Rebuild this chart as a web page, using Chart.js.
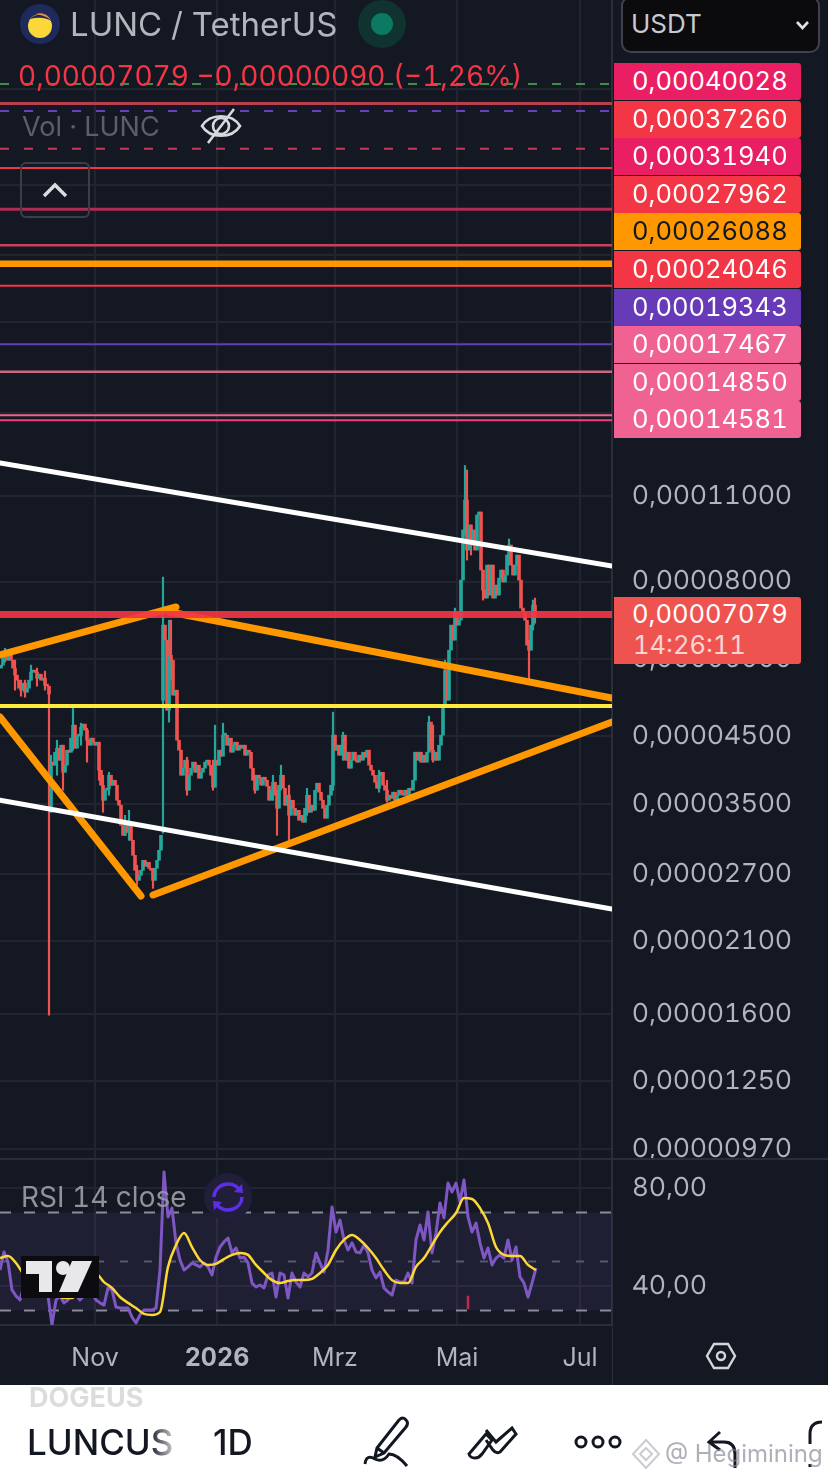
<!DOCTYPE html>
<html>
<head>
<meta charset="utf-8">
<title>LUNC / TetherUS</title>
<script src="https://cdn.jsdelivr.net/npm/chart.js@4"></script>
<style>
  @font-face { font-family: InterTab; src: local('Inter'), local('Inter Regular'); font-feature-settings: "tnum"; }
  html, body { margin: 0; padding: 0; background: #141823; }
  #page { position: relative; width: 828px; height: 1478px; overflow: hidden; background: #141823; font-family: Inter, sans-serif; font-variant-numeric: tabular-nums; }
  canvas { position: absolute; left: 0; }
  .txt { position: absolute; white-space: nowrap; line-height: 1; }
  .badge { position: absolute; left: 614px; width: 187px; height: 37px; border-radius: 0 3px 3px 0; color: #fff; font-size: 25.5px; line-height: 35px; text-indent: 18px; }
  svg { position: absolute; overflow: visible; }
</style>
</head>
<body>
<div id="page">
  <canvas id="priceChart" style="top:0"></canvas>
  <canvas id="rsiChart" style="top:1158px"></canvas>

  <div style="position:absolute;left:0;top:1158px;width:828px;height:2px;background:#2a2e39"></div>
  <div style="position:absolute;left:612px;top:1325px;width:1px;height:60px;background:#2a2e39"></div>

  <!-- header -->
  <svg style="left:20px;top:4px" width="40" height="40" viewBox="0 0 40 40">
    <circle cx="20" cy="20" r="20" fill="#1f2a5c"/>
    <circle cx="20" cy="22" r="12" fill="#fbd83a"/>
    <path d="M10 15 C16 8 28 9 33 18 C26 13 18 13 10 15Z" fill="#1f2a5c"/>
    <path d="M16 10 C22 8 28 11 31 16 C26 12 21 11 16 10Z" fill="#f08a3c"/>
  </svg>
  <div class="txt" style="left:70px;top:8px;font-size:33px;color:#b2b5be">LUNC / TetherUS</div>
  <svg style="left:358px;top:0" width="48" height="48"><circle cx="24" cy="24" r="24" fill="#11332f"/><circle cx="24" cy="24" r="11" fill="#0c7a63"/></svg>
  <div class="txt" style="left:18px;top:62px;font-size:28px;color:#f23645">0,00007079 −0,00000090 (−1,26%)</div>
  <div class="txt" style="left:22px;top:113px;font-size:27px;color:#5d5f68">Vol · LUNC</div>
  <svg style="left:200px;top:108px" width="42" height="36" viewBox="0 0 42 36" fill="none" stroke="#d8d9dd" stroke-width="2.6">
    <path d="M2 18 C10 5 32 5 40 18 C32 31 10 31 2 18Z"/>
    <circle cx="21" cy="18" r="8"/>
    <path d="M8 35 L34 1"/>
  </svg>
  <div style="position:absolute;left:20px;top:162px;width:66px;height:52px;border:2px solid #3b3e47;border-radius:6px"></div>
  <svg style="left:42px;top:182px" width="26" height="16" fill="none" stroke="#dcdde0" stroke-width="3.4"><path d="M2 14 L13 3 L24 14"/></svg>

  <!-- pair selector -->
  <div style="position:absolute;left:621px;top:-4px;width:195px;height:53px;background:#0b0b0e;border:2px solid #3f424b;border-radius:10px"></div>
  <div class="txt" style="left:631px;top:11px;font-size:26px;color:#c8cad0">USDT</div>
  <svg style="left:796px;top:21px" width="13" height="9" fill="none" stroke="#e0e1e4" stroke-width="2.6"><path d="M1 1 L6.5 7 L12 1"/></svg>

  <div id="badges"></div>

  <!-- last price -->
  <div style="position:absolute;left:614px;top:597px;width:187px;height:67px;background:#ef5350;border-radius:0 3px 3px 0"></div>
  <div class="txt" style="left:632px;top:601px;font-size:25.5px;color:#fff">0,00007079</div>
  <div class="txt" style="left:633px;top:632px;font-size:25.5px;color:#f7d5d3">14:26:11</div>

  <!-- rsi pane legend -->
  <div class="txt" style="left:21px;top:1183px;font-size:28px;color:#8f929b">RSI 14 close</div>
  <svg style="left:204px;top:1173px" width="48" height="48" viewBox="0 0 48 48" fill="none">
    <circle cx="24" cy="24" r="24" fill="#211e3a"/>
    <path d="M10 24 A14 13 0 0 1 35 16 M38 24 A14 13 0 0 1 13 32" stroke="#5c2fe6" stroke-width="3.6"/>
    <path d="M30 19 L39 20 L38 11Z M18 29 L9 28 L10 37Z" fill="#5c2fe6"/>
  </svg>
  <svg style="left:21px;top:1256px" width="78" height="42" viewBox="0 0 78 42">
    <rect x="0" y="0" width="78" height="42" fill="#0c0c10"/>
    <path d="M5 5 H31 V36 H18 V18 H5Z M51 5 H71 L57 36 H38Z" fill="#e8e8ea"/>
    <circle cx="42" cy="12" r="7" fill="#e8e8ea"/>
  </svg>
  <svg style="left:706px;top:1341px" width="30" height="30" viewBox="0 0 30 30" fill="none" stroke="#d5d6da" stroke-width="2.4">
    <path d="M8 3 H22 L29 15 L22 27 H8 L1 15Z"/><circle cx="15" cy="15" r="4"/>
  </svg>

  <!-- bottom toolbar -->
  <div style="position:absolute;left:0;top:1385px;width:828px;height:93px;background:#fff"></div>
  <div class="txt" style="left:29px;top:1384px;font-size:27px;font-weight:700;color:#dcdcdc;width:146px;overflow:hidden;-webkit-mask-image:linear-gradient(90deg,#000 80%,transparent)">DOGEUS</div>
  <div class="txt" style="left:27px;top:1425px;font-size:35px;font-weight:500;color:#131722;width:149px;overflow:hidden;-webkit-mask-image:linear-gradient(90deg,#000 82%,rgba(0,0,0,.15))">LUNCUS</div>
  <div class="txt" style="left:213px;top:1425px;font-size:35px;font-weight:500;color:#131722;font-variant-numeric:normal">1D</div>
  <svg style="left:363px;top:1416px" width="50" height="52" viewBox="0 0 50 52" fill="none" stroke="#131722" stroke-width="3">
    <path d="M14 32 L36 4 Q40 0 43 4 Q46 7 43 11 L21 37 L12 41Z M14 32 L21 37"/>
    <path d="M2 48 Q3 38 12 43 Q20 47 26 38 Q34 38 44 50"/>
  </svg>
  <svg style="left:466px;top:1426px" width="52" height="34" viewBox="0 0 52 34" fill="none" stroke="#131722" stroke-width="3">
    <path d="M3 28 L20 8 L26 14 L16 28 Q13 32 9 32 Q4 32 3 28Z M20 4 L30 16 L46 2 L50 8 L34 26 Q30 28 27 24 L20 14"/>
  </svg>
  <svg style="left:574px;top:1434px" width="48" height="16" fill="none" stroke="#131722" stroke-width="3">
    <circle cx="7" cy="8" r="5"/><circle cx="24" cy="8" r="5"/><circle cx="41" cy="8" r="5"/>
  </svg>
  <svg style="left:706px;top:1430px" width="32" height="38" viewBox="0 0 32 38" fill="none" stroke="#131722" stroke-width="3">
    <path d="M14 2 L3 12 L14 20 M3 12 H18 Q29 12 29 24 V38"/>
  </svg>
  <svg style="left:808px;top:1420px" width="20" height="50" fill="none" stroke="#131722" stroke-width="3">
    <path d="M14 2 Q2 2 2 14 V24 M2 44 L2 47"/>
  </svg>
  <svg style="left:631px;top:1438px" width="30" height="32" viewBox="0 0 30 32" fill="none" stroke="#b9bbc2" stroke-width="2" opacity="0.75">
    <path d="M15 2 L28 16 L15 30 L2 16Z M15 10 L21 16 L15 22 L9 16Z"/>
  </svg>
  <div class="txt" style="left:665px;top:1442px;font-size:24px;color:rgba(130,132,145,.65)">@ Hegimining</div>
</div>

<script>
// prices are in 1e-8 USDT so the lists stay readable
// daily candles, one close per day starting at the left edge
firstOpen = 5800;
closes = [
  5864,6082,6130,5974,6082,5974,5800,5650,5546,5383,5343,5484,5303,5383,5546,5713,5756,5713,5587,5670,5546,5587,5444,5424,5265,
  4088,4042,4242,4306,4118,4354,3937,4042,4274,4242,4470,4691,4306,4503,4520,4656,4709,4604,4436,4354,4470,4403,4354,4403,3967,
  3752,3548,3683,3710,3894,3752,3822,3752,3548,3483,3233,3114,3269,3149,3269,3057,2891,2734,2634,2684,2734,2838,2775,2817,2755,2734,2634,2755,2838,2946,3114,
  6805,6436,4960,6082,5974,5245,5343,4436,4274,3894,3997,4118,3683,3894,3997,4088,3937,4042,3851,3937,3997,4088,4118,4042,3894,3724,
  4118,4042,4274,4180,4520,4520,4354,4470,4242,4354,4403,4274,4354,4306,4354,4195,4274,4242,3997,3822,3683,3894,3851,3752,3865,3822,3738,
  3548,3683,3794,3615,3444,3752,3894,3710,3483,3615,3355,3548,3444,3355,3418,3294,3355,3269,3444,3615,3393,3483,3418,3683,3780,3656,3548,3444,3318,3483,3615,3752,
  4520,4274,4354,4195,4354,4520,4118,4242,3997,4118,4242,4118,4088,4195,4118,4242,4164,4274,4042,3967,3894,3794,3710,3894,3937,3752,3683,3548,3615,3575,3656,3548,3615,3683,3642,
  3615,3683,3615,3710,3683,3822,4242,4118,4242,4088,4195,4088,4242,4744,4274,4118,4242,4118,4354,4520,5054,5756,5148,6200,6805,6436,7143,6805,6933,
  8046,9693,10838,8997,9875,9166,9693,8997,10249,10365,8352,7752,7525,8508,7609,8508,7525,7898,7609,8105,8352,7987,8197,8831,9166,8508,8197,8508,8831,8046,7250,7143,6933,6317,6200,6805,7331,7079
];
// days that open away from the previous close
gapDays = [25, 81];
gapOpens = [3393, 5148];
// visible wicks
wickDays = [2,7,10,12,15,18,22,24,25,28,31,36,40,43,49,51,54,62,64,68,76,81,84,85,93,106,107,111,127,136,138,140,144,153,166,171,189,193,214,216,222,227,232,233,235,241,254,264,266,267];
wickHighs = [6244,5974,5546,5546,5864,5800,5734,5383,4195,4436,4354,5016,4726,4638,4354,3894,3937,3355,3418,2786,2755,8135,6933,6933,4164,4118,4691,4726,3894,3894,3683,4042,3752,3710,4924,4570,3967,3822,4851,4691,5974,7250,12320,12117,9875,8197,9374,6436,7469,7525];
wickLows = [5930,5343,5225,5206,5546,5424,5343,1596,3393,3894,3683,4274,4354,4088,3822,3393,3615,3114,3057,2586,2557,3138,4744,5546,3615,3683,3967,4195,3642,3548,3114,3683,3057,3355,3683,4118,3656,3522,4354,4088,5054,6556,9514,8668,8831,7469,8508,5546,6680,6856];

// axis
priceTicks = [50000,35000,27000,21000,15000,11000,8000,6000,4500,3500,2700,2100,1600,1250,970];
labelledTicks = [11000,8000,6000,4500,3500,2700,2100,1600,1250,970];
monthDays = [47.5,108.5,167.5,228.5,290];
monthLabels = ["Nov","2026","Mrz","Mai","Jul"];

// right-hand labels of the horizontal levels
badgePrices = [40028,37260,31940,27962,26088,24046,19343,17467,14850,14581];
badgeColors = ["#e91e63","#f23645","#e91e63","#f23645","#ff9800","#f23645","#673ab7","#f06292","#f06292","#f06292"];

// other horizontal lines drawn on the chart
extraLevelPrices = [50900,47350,46050];
lastPrice = 7079;
yellowLevel = 5038;

// trend lines: start day, start price, end day, end price
whiteTop = [0,12436,306,8479];
whiteBottom = [0,3548,306,2367];
orangeRise = [0,6090,88,7280];
orangeFall = [85,7146,306,5190];
orangeDrop = [0,4835,70.5,2485];
orangeBase = [76.5,2495,306,4747];

// RSI, one reading every second day
rsiValues = [
  46.5,53.9,49.8,38.4,35.9,34.3,40.4,41.2,41.6,38.4,
  37.6,36.7,35.9,24.1,34.3,35.9,33.1,34.3,38.4,36.3,
  34.3,35.9,43.7,37.1,34.3,33.1,32.2,39.2,38.4,31.4,
  31,31,31,27.3,24.9,28.2,30.2,30.2,30.2,31,
  46.5,86.5,68.2,71.8,57.6,50.6,46.5,47.8,49.4,48.6,
  47.8,49.4,47.8,44.5,51.8,55.9,58,59.6,53.5,55.5,
  51.4,51.8,49.4,41.2,39.6,40.4,39.2,44.5,45.3,35.5,
  45.3,44.5,35.1,45.3,41.6,39.6,45.3,43.7,45.3,53.5,
  49.4,45.7,54.7,72.2,62,66.9,58.8,54.7,57.6,53.9,
  53.5,56.7,53.5,46.5,43.3,45.7,39.2,37.6,36.3,42.4,
  41.6,41.6,45.3,41.2,58.8,64.9,58.8,70.2,53.5,61.6,
  73.9,67.8,82,78.4,82,74.3,83.3,68.2,62,65.7,
  57.6,51.4,55.5,48.6,51.4,52.7,51.4,58.8,50.6,55.9,
  43.7,41.2,35.5,41.2,47.3
];
// RSI average, one reading every fourth day
rsiAverage = [
  51.4,52.2,49.4,44.5,41.2,40.4,37.6,36.3,35.1,35.1,
  39.2,43.3,44.9,41.6,39.2,35.5,33.1,31,28.6,28.2,
  29.4,47.8,56.7,61.6,55.9,50.6,48.6,49,51,52.7,
  53.5,52.7,48.6,45.3,42.4,41.2,42,42.4,42.4,42.9,
  45.3,48.6,54.7,58.8,60.8,58.8,55.5,51.4,46.5,42.4,
  41.2,41.2,47.8,51.4,56.7,62,66.1,69.8,75.9,75.5,
  71.8,65.7,55.9,52.7,52.2,52.2,48.6,46.5
];
rsiBands = [70,50,30];
rsiTicks = [80,40];
rsiMarker = [234,36,30.6];

const GRID = '#21252f';
const TEXT = '#b2b5be';
const UP = '#26a69a';
const DOWN = '#ef5350';
const LAST_DAY = 306;

function formatPrice(v){
  return (v / 1e8).toFixed(8).replace('.', ',');
}

// Badges
for (i = 0; i < badgePrices.length; i++) {
  b = document.createElement('div');
  b.className = 'badge';
  b.style.top = (63 + i * 37.6) + 'px';
  b.style.background = badgeColors[i];
  if (badgePrices[i] == 26088) b.style.color = '#131722';
  b.textContent = formatPrice(badgePrices[i]);
  document.getElementById('badges').appendChild(b);
}

// Candles
opens = closes.map(function (c, d) {
  g = gapDays.indexOf(d);
  if (g >= 0) return gapOpens[g];
  return d == 0 ? firstOpen : closes[d - 1];
});
candleColors = closes.map(function (c, d) { return c >= opens[d] ? UP : DOWN; });
bodies = closes.map(function (c, d) { return {x: d + 0.5, y: [opens[d], c]}; });
wicks = wickDays.map(function (d, i) { return {x: d + 0.5, y: [wickLows[i], wickHighs[i]]}; });
wickColors = wickDays.map(function (d) { return candleColors[d]; });

function flatLine(price, color, width, dash){
  return {
    type: 'line', order: 0, data: [{x: 0, y: price}, {x: LAST_DAY, y: price}],
    borderColor: color, borderWidth: width, borderDash: dash || [], pointRadius: 0
  };
}

function trendLine(t, color, width){
  return {
    type: 'line', order: 0, data: [{x: t[0], y: t[1]}, {x: t[2], y: t[3]}],
    borderColor: color, borderWidth: width, borderCapStyle: 'round', pointRadius: 0
  };
}

const xGrid = {color: GRID, lineWidth: 2, drawTicks: false, offset: false};

function setMonthTicks(axis){
  axis.ticks = monthDays.map(function (d) { return {value: d}; });
}

// tick label padding would shrink the plot, the panes run edge to edge
function noAxisPadding(axis){
  axis.paddingTop = 0;
  axis.paddingBottom = 0;
  axis.paddingLeft = 0;
  axis.paddingRight = 0;
}

const priceDatasets = [
  {type: 'bar', order: 3, data: wicks, backgroundColor: wickColors, barThickness: 1.5, grouped: false},
  {type: 'bar', order: 2, data: bodies, backgroundColor: candleColors, barThickness: 3, minBarLength: 2, grouped: false},
  flatLine(extraLevelPrices[0], '#3f8f4a', 2, [9, 15]),
  flatLine(extraLevelPrices[1], '#b8404e', 3),
  flatLine(extraLevelPrices[2], '#6a3fc0', 2, [9, 15]),
  flatLine(badgePrices[0], '#c03a5c', 2, [9, 15]),
  flatLine(badgePrices[1], '#f23645', 2),
  flatLine(badgePrices[2], '#b02a55', 3),
  flatLine(badgePrices[3], '#c8415a', 2.5),
  flatLine(badgePrices[4], '#ff9800', 6.5),
  flatLine(badgePrices[5], '#f23645', 2),
  flatLine(badgePrices[6], '#673ab7', 2),
  flatLine(badgePrices[7], '#c56a82', 2.5),
  flatLine(badgePrices[8], '#f0608f', 2),
  flatLine(badgePrices[9], '#f0407f', 2),
  flatLine(lastPrice, 'rgba(242,54,69,0.92)', 7),
  flatLine(yellowLevel, '#ffeb3b', 4),
  trendLine(whiteTop, '#ffffff', 5),
  trendLine(whiteBottom, '#ffffff', 5),
  trendLine(orangeRise, '#ff9800', 7),
  trendLine(orangeFall, '#ff9800', 7),
  trendLine(orangeDrop, '#ff9800', 7),
  trendLine(orangeBase, '#ff9800', 7)
];

// RSI pane
rsiPoints = rsiValues.map(function (v, i) { return {x: i * 2, y: v}; });
averagePoints = rsiAverage.map(function (v, i) { return {x: i * 4, y: v}; });

function bandLine(v){
  return {
    type: 'line', order: 3, data: [{x: 0, y: v}, {x: LAST_DAY, y: v}],
    borderWidth: 2, borderDash: [11, 13], pointRadius: 0
  };
}

bandTop = bandLine(rsiBands[0]);
bandTop.borderColor = '#8a8c96';
bandMid = bandLine(rsiBands[1]);
bandMid.borderColor = '#55566a';
bandMid.borderDash = [8, 16];
bandBottom = bandLine(rsiBands[2]);
bandBottom.borderColor = '#8a8c96';
bandTop.fill = {target: {value: rsiBands[2]}, above: 'rgba(126,87,194,0.11)', below: 'rgba(126,87,194,0.11)'};

function drawCharts(){
  const priceCanvas = document.getElementById('priceChart');
  priceCanvas.style.width = '828px';
  priceCanvas.style.height = '1158px';
  priceCanvas.width = 828;
  priceCanvas.height = 1158;

  new Chart(priceCanvas, {
    type: 'bar',
    data: {datasets: priceDatasets},
    options: {
      responsive: false,
      animation: false,
      events: [],
      layout: {padding: 0},
      plugins: {legend: {display: false}, tooltip: {enabled: false}},
      scales: {
        x: {
          type: 'linear', min: 0, max: LAST_DAY, offset: false,
          grid: xGrid, border: {display: false},
          ticks: {display: false},
          afterBuildTicks: setMonthTicks,
          afterFit: function (axis) { axis.height = 0; noAxisPadding(axis); }
        },
        y: {
          type: 'logarithmic', position: 'right', min: 938, max: 69580,
          grid: {color: GRID, lineWidth: 2, drawTicks: false},
          border: {color: '#2a2e39', width: 2},
          ticks: {
            color: TEXT, padding: 20, autoSkip: false,
            font: {family: 'InterTab, Inter', size: 26},
            callback: function (v) { return labelledTicks.indexOf(v) >= 0 ? formatPrice(v) : ''; }
          },
          afterBuildTicks: function (axis) {
            axis.ticks = priceTicks.map(function (v) { return {value: v}; });
          },
          afterFit: function (axis) { axis.width = 216; noAxisPadding(axis); }
        }
      }
    }
  });

  const rsiCanvas = document.getElementById('rsiChart');
  rsiCanvas.style.width = '828px';
  rsiCanvas.style.height = '227px';
  rsiCanvas.width = 828;
  rsiCanvas.height = 227;

  new Chart(rsiCanvas, {
    type: 'line',
    data: {
      datasets: [
        bandTop, bandMid, bandBottom,
        {order: 2, data: rsiPoints, borderColor: '#7e57c2', borderWidth: 3, pointRadius: 0, borderJoinStyle: 'round'},
        {order: 1, data: averagePoints, borderColor: '#fdd835', borderWidth: 2.5, pointRadius: 0, cubicInterpolationMode: 'monotone'},
        {order: 0, data: [{x: rsiMarker[0], y: rsiMarker[1]}, {x: rsiMarker[0], y: rsiMarker[2]}], borderColor: '#c2284f', borderWidth: 2.5, pointRadius: 0}
      ]
    },
    options: {
      responsive: false,
      animation: false,
      events: [],
      layout: {padding: 0},
      plugins: {legend: {display: false}, tooltip: {enabled: false}},
      scales: {
        x: {
          type: 'linear', min: 0, max: LAST_DAY,
          grid: xGrid, border: {color: '#2a2e39', width: 2},
          ticks: {
            color: TEXT, padding: 18, maxRotation: 0, autoSkip: false,
            font: function (ctx) {
              return {family: 'Inter', size: 25, weight: ctx.tick && ctx.tick.value == monthDays[1] ? 'bold' : 'normal'};
            },
            callback: function (v) { return monthLabels[monthDays.indexOf(v)]; }
          },
          afterBuildTicks: setMonthTicks,
          afterFit: function (axis) { axis.height = 60; noAxisPadding(axis); }
        },
        y: {
          type: 'linear', position: 'right', min: 24.08, max: 92.24,
          grid: {color: GRID, lineWidth: 2, drawTicks: false},
          border: {color: '#2a2e39', width: 2},
          ticks: {
            color: TEXT, padding: 20,
            font: {family: 'InterTab, Inter', size: 26},
            callback: function (v) { return v.toFixed(2).replace('.', ','); }
          },
          afterBuildTicks: function (axis) {
            axis.ticks = rsiTicks.map(function (v) { return {value: v}; });
          },
          afterFit: function (axis) { axis.width = 216; noAxisPadding(axis); }
        }
      }
    }
  });
}

document.fonts.load('26px InterTab').then(drawCharts, drawCharts);
</script>
</body>
</html>
